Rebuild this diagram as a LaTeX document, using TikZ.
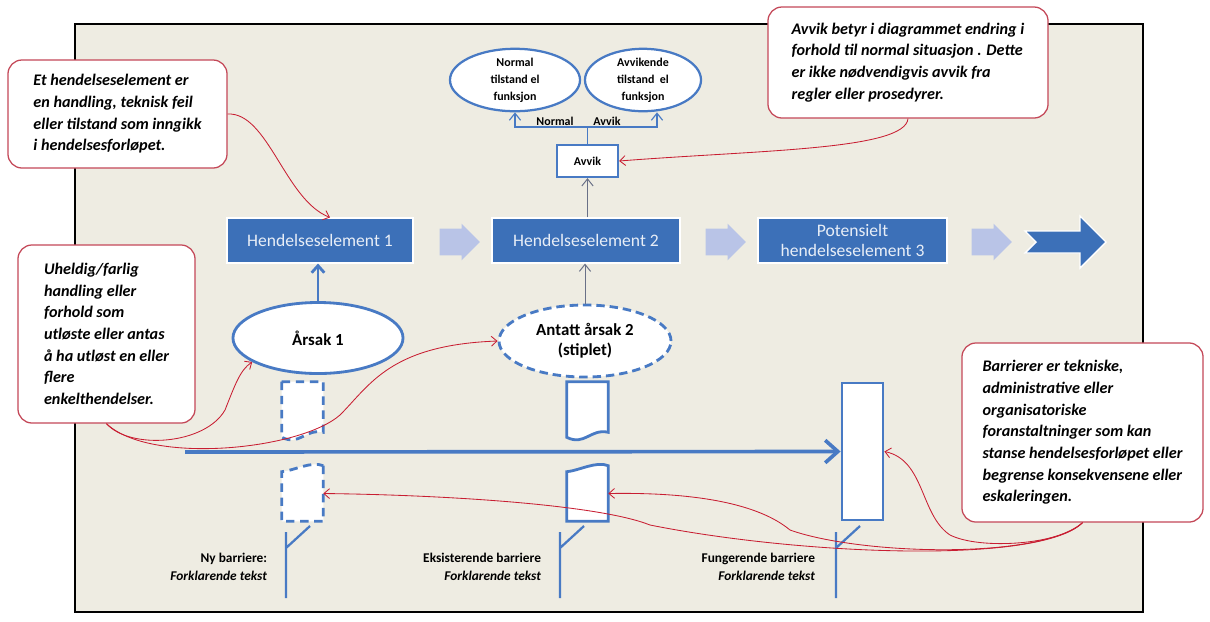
\documentclass[tikz,border=0pt]{standalone}
\usepackage{fontspec}
\setmainfont{Carlito}
\usetikzlibrary{calc,shapes,shapes.arrows,positioning,arrows.meta}

\definecolor{frameBg}{RGB}{238,236,226}
\definecolor{evBlue}{RGB}{60,112,184}
\definecolor{lnBlue}{RGB}{72,122,196}
\definecolor{fadeBlue}{RGB}{176,190,232}
\definecolor{noteRed}{RGB}{196,72,88}
\definecolor{linkRed}{RGB}{200,30,50}
\definecolor{thinGray}{RGB}{105,112,135}

\begin{document}
\begin{tikzpicture}[x=0.025cm, y=-0.025cm,
  event/.style={rectangle, fill=evBlue, draw=white, line width=0.8pt, minimum height=1.125cm, text=white!88!evBlue, font=\fontsize{12.5}{14}\selectfont, align=center},
  note/.style={rectangle, rounded corners=0.35cm, draw=noteRed, line width=0.9pt, fill=white, align=left, font=\fontsize{11.5}{15.4}\selectfont\bfseries\itshape},
  cause/.style={ellipse, draw=lnBlue, line width=2pt, fill=white, align=center, font=\fontsize{12}{14.5}\selectfont\bfseries},
  state/.style={ellipse, draw=lnBlue, line width=1.6pt, fill=white, align=center, inner sep=0pt, font=\fontsize{8.5}{12}\selectfont\bfseries},
  fadearrow/.style={single arrow, fill=fadeBlue, draw=none, minimum height=1cm, single arrow head extend=0.12cm, inner sep=0.33cm, opacity=0.85},
  barrier/.style={rectangle, draw=lnBlue, line width=2pt, fill=white, minimum width=1.025cm},
  barframe/.style={rectangle, draw=none, minimum width=1.025cm, inner sep=0pt},
  barline/.style={draw=lnBlue, line width=2pt, fill=white},
  flagline/.style={lnBlue, line width=1.6pt},
  link/.style={linkRed, line width=0.6pt, -{Straight Barb[length=4pt,width=7pt]}},
  branch/.style={lnBlue, line width=0.8pt},
  small/.style={font=\fontsize{9.5}{12.5}\selectfont\bfseries, align=right}
]
    \path[fill=white] (0,0) rectangle (1210,621);
    \useasboundingbox (0,0) rectangle (1210,621);
    \draw[line width=2pt, fill=frameBg] (75,24) rectangle (1143,612);

    \node[event, minimum width=4.65cm] (h1) at (320,240.5) {Hendelseselement 1};
    \node[event, minimum width=4.7cm] (h2) at (586,240.5) {Hendelseselement 2};
    \node[event, minimum width=4.725cm] (h3) at (852.5,240.5) {Potensielt\\hendelseselement 3};
    \node[fadearrow] (f1) at (453,242) {};
    \node[fadearrow] (f2) at (719,242) {};
    \node[fadearrow] (f3) at (985,242) {};
    \fill[evBlue, draw=white, line width=1pt] (1025,231) -- (1080,231) -- (1080,216) -- (1106,242)
      -- (1080,268) -- (1080,253) -- (1025,253) -- (1036,242) -- cycle;

    \node[state, minimum width=3.25cm, minimum height=1.375cm] (normal) at (515,80) {Normal\\tilstand el\\funksjon};
    \node[state, minimum width=2.9cm, minimum height=1.375cm] (avvikende) at (643,80) {Avvikende\\tilstand\ \ el\\funksjon};
    \node[rectangle, draw=lnBlue, line width=1.6pt, fill=white, minimum width=1.525cm, minimum height=0.8cm,
      font=\fontsize{8.5}{10}\selectfont\bfseries] (avvik) at (587.5,161) {Avvik};
    \coordinate (br) at (583,127);
    \draw[branch, -{Straight Barb[length=5pt,width=8pt]}] (avvik.north) -- (avvik.north |- br) -| (normal.south);
    \draw[branch, -{Straight Barb[length=5pt,width=8pt]}] (avvik.north |- br) -| ($(avvikende.south)+(14,0)$);
    \node[font=\fontsize{8.5}{10}\selectfont\bfseries] (lblnorm) at (555,121) {Normal};
    \node[font=\fontsize{8.5}{10}\selectfont\bfseries] (lblavv) at (607,121) {Avvik};
    \draw[thinGray, line width=0.7pt, -{Straight Barb[length=5pt,width=8pt]}] (h2.north -| avvik.south) -- (avvik.south);

    \node[cause, minimum width=4.25cm, minimum height=1.775cm] (arsak1) at (318,338) {Årsak 1};
    \node[cause, dash pattern=on 6pt off 3.5pt, minimum width=4.3cm, minimum height=1.8cm] (arsak2) at (585,341) {Antatt årsak 2\\(stiplet)};
    \draw[lnBlue, line width=2pt, -{Straight Barb[length=5pt,width=9pt]}] (arsak1.north) -- (arsak1.north |- h1.south);
    \draw[thinGray, line width=0.7pt, -{Straight Barb[length=5pt,width=8pt]}] (arsak2.north) -- (arsak2.north |- h2.south);

    \node[barframe, minimum height=1.25cm] (nb1) at (302.5,407) {};
    \node[barframe, minimum height=1.375cm] (nb2) at (302.5,493.5) {};
    \node[barframe, minimum height=1.25cm] (eb1) at (587.5,407) {};
    \node[barframe, minimum height=1.375cm] (eb2) at (587.5,493.5) {};
    \node[barrier, minimum height=3.425cm] (fb) at (862.5,451.5) {};
    \draw[barline, dash pattern=on 6pt off 4pt] (nb1.north west) -- (nb1.north east) -- (nb1.south east)
      .. controls +(-18,-4) and +(18,9) .. ($(nb1.south west)+(0,5)$) -- cycle;
    \draw[barline, dash pattern=on 6pt off 4pt] (nb2.north east) -- (nb2.south east) -- (nb2.south west) -- ($(nb2.north west)+(0,6)$)
      .. controls +(12,-1) and +(-12,-5) .. (nb2.north east);
    \draw[barline] (eb1.north west) -- (eb1.north east) -- (eb1.south east)
      .. controls +(-18,-4) and +(18,9) .. ($(eb1.south west)+(0,5)$) -- cycle;
    \draw[barline] (eb2.north east) -- (eb2.south east) -- (eb2.south west) -- ($(eb2.north west)+(0,6)$)
      .. controls +(12,-1) and +(-12,-5) .. (eb2.north east) -- cycle;

    \coordinate (tl) at (185,452);
    \draw[lnBlue, line width=2.6pt, -{Straight Barb[length=9pt,width=16pt]}] (tl) -- (fb.west);

    \foreach \fx in {286,560,836}
      \draw[flagline] (\fx,532) -- (\fx,598) (\fx,548) -- ++(24,-22);
    \node[small, anchor=east] (nylbl) at (272,567) {Ny barriere:\\\textit{Forklarende tekst}};
    \node[small, anchor=east] (eklbl) at (546,567) {Eksisterende barriere\\\textit{Forklarende tekst}};
    \node[small, anchor=east] (fulbl) at (820,567) {Fungerende barriere\\\textit{Forklarende tekst}};

    \node[note, minimum width=5.475cm, minimum height=2.7cm] (c1) at (117.5,114)
      {Et hendelseselement er\\en handling, teknisk feil\\eller tilstand som inngikk\\i hendelsesforløpet.};
    \node[note, minimum width=7cm, minimum height=2.775cm] (cAv) at (908,62.5)
      {Avvik betyr i diagrammet endring i\\forhold til normal situasjon . Dette\\er ikke nødvendigvis avvik fra\\regler eller prosedyrer.};
    \node[note, minimum width=4.425cm, minimum height=4.45cm] (cU) at (106.5,334)
      {Uheldig/farlig\\handling eller\\forhold som\\utløste eller antas\\å ha utløst en eller\\flere\\enkelthendelser.};
    \node[note, minimum width=6.025cm, minimum height=4.475cm] (cB) at (1082.5,432.5)
      {Barrierer er tekniske,\\administrative eller\\organisatoriske\\foranstaltninger som kan\\stanse hendelsesforløpet eller\\begrense konsekvensene eller\\eskaleringen.};

    \draw[link] (c1.east) .. controls (268,112) and (285,200) .. ($(h1.north)+(10,0)$);
    \draw[link] (cAv.south) .. controls (905,150) and (760,150) .. (avvik.east);
    \draw[link] (cU.south) .. controls (130,450) and (205,445) .. (225,410) .. controls (235,385) and (240,370) .. (arsak1.200);
    \draw[link] (cU.south) .. controls (150,465) and (300,450) .. (340,415) .. controls (370,385) and (390,345) .. (arsak2.west);
    \draw[link] (cB.south) .. controls (1060,545) and (980,550) .. (950,535) .. controls (920,515) and (925,460) .. (fb.east);
    \draw[link] (cB.south) .. controls (1040,560) and (860,555) .. (790,530) .. controls (760,505) and (700,492) .. (eb2.east);
    \draw[link] (cB.south) .. controls (1040,565) and (800,555) .. (650,525) .. controls (600,505) and (450,495) .. (nb2.east);
\end{tikzpicture}
\end{document}
